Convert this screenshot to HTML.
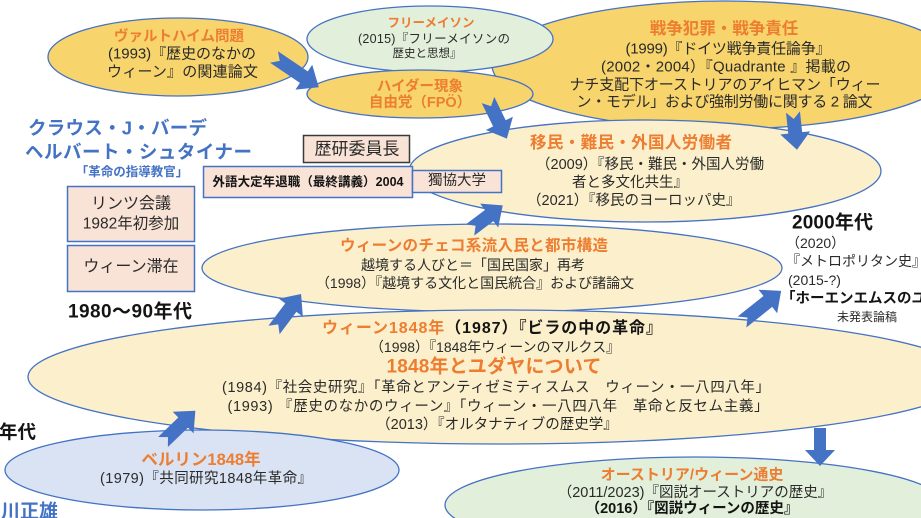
<!DOCTYPE html>
<html><head><meta charset="utf-8">
<style>
html,body{margin:0;padding:0;background:#fff;width:921px;height:518px;overflow:hidden}
svg{display:block;overflow:hidden}
text{font-family:"Liberation Sans","Noto Sans CJK JP",sans-serif;dominant-baseline:central;fill:#2a2a2a}
.o{fill:#ED7D31;font-weight:bold}
.b{font-weight:bold;fill:#141414}
.bl{fill:#4472C4;font-weight:bold}
.m{text-anchor:middle}
.e{stroke:#4472C4;stroke-width:1.3}
.ar{fill:#4472C4}
</style></head><body>
<svg width="921" height="518" viewBox="0 0 921 518" xmlns="http://www.w3.org/2000/svg">
<!-- ellipses -->
<ellipse class="e" cx="725" cy="65" rx="233" ry="64" fill="#F7D46C"/>
<ellipse class="e" cx="645" cy="171" rx="236" ry="51" fill="#FCF0CC"/>
<ellipse class="e" cx="178" cy="57" rx="130" ry="39" fill="#F7D46C"/>
<ellipse class="e" cx="430" cy="39" rx="123" ry="33" fill="#E2EFDA"/>
<ellipse class="e" cx="420" cy="94" rx="113" ry="24" fill="#F7D46C"/>
<ellipse class="e" cx="492" cy="268" rx="290" ry="44" fill="#FCF0CC"/>
<ellipse class="e" cx="499" cy="377" rx="471" ry="67" fill="#FCF0CC"/>
<ellipse class="e" cx="202" cy="470" rx="197" ry="40" fill="#DAE3F3"/>
<ellipse class="e" cx="695" cy="505" rx="250" ry="48" fill="#E2EFDA"/>

<!-- boxes -->
<rect x="303.5" y="135.5" width="106" height="27" fill="#F8E3D6" stroke="#3a3a3a" stroke-width="1.5"/>
<rect x="203.5" y="166.5" width="209" height="31" fill="#F8E3D6" stroke="#4472C4" stroke-width="1.5"/>
<rect x="412.5" y="170.5" width="89" height="22" fill="#F8E3D6" stroke="#4472C4" stroke-width="1.5"/>
<rect x="67.5" y="186.5" width="127" height="55" fill="#F8E3D6" stroke="#4472C4" stroke-width="1.5"/>
<rect x="67.5" y="245.5" width="127" height="46" fill="#F8E3D6" stroke="#4472C4" stroke-width="1.5"/>

<!-- arrows -->
<g class="ar">
<g transform="translate(274,57) rotate(34)"><polygon points="0,-7 36,-7 36,-15 54,0 36,15 36,7 0,7 7,0"/></g>
<g transform="translate(488,100) rotate(64)"><polygon points="0,-7 26,-7 26,-15 43,0 26,15 26,7 0,7 7,0"/></g>
<g transform="translate(793,112) rotate(84)"><polygon points="0,-7 21,-7 21,-15 38,0 21,15 21,7 0,7 7,0"/></g>
<g transform="translate(470,230) rotate(-37)"><polygon points="0,-7 24,-7 24,-15 41,0 24,15 24,7 0,7 7,0"/></g>
<g transform="translate(274,330) rotate(-53)"><polygon points="0,-7 28,-7 28,-15 45,0 28,15 28,7 0,7 7,0"/></g>
<g transform="translate(163,442) rotate(-44)"><polygon points="0,-7 28,-7 28,-15 45,0 28,15 28,7 0,7 7,0"/></g>
<g transform="translate(742,322) rotate(-38.5)"><polygon points="0,-7 33,-7 33,-15 50,0 33,15 33,7 0,7 7,0"/></g>
<g transform="translate(820,428) rotate(90)"><polygon points="0,-6 22,-6 22,-15 38,0 22,15 22,6 0,6"/></g>
</g>

<!-- Waldheim -->
<text class="o m" x="179" y="37" font-size="14.5">ヴァルトハイム問題</text>
<text class="m" x="182" y="54" font-size="15" textLength="148" lengthAdjust="spacing">(1993)『歴史のなかの</text>
<text class="m" x="182.5" y="72" font-size="15" textLength="151" lengthAdjust="spacing">ウィーン』の関連論文</text>

<!-- Freemason -->
<text class="o m" x="431" y="23" font-size="12.5">フリーメイソン</text>
<text class="m" x="434" y="39" font-size="12.5" textLength="152" lengthAdjust="spacing">(2015)『フリーメイソンの</text>
<text class="m" x="427" y="54" font-size="11.5">歴史と思想』</text>

<!-- Haider -->
<text class="o m" x="420" y="87" font-size="14.5">ハイダー現象</text>
<text class="o m" x="420" y="103" font-size="14.5">自由党（FPÖ）</text>

<!-- War crimes -->
<text class="o m" x="724" y="29" font-size="16.5">戦争犯罪・戦争責任</text>
<text class="m" x="728" y="49" font-size="15" textLength="205" lengthAdjust="spacing">(1999)『ドイツ戦争責任論争』</text>
<text class="m" x="726" y="67" font-size="15" textLength="250" lengthAdjust="spacing">(2002・2004）『Quadrante 』掲載の</text>
<text class="m" x="725" y="85" font-size="15" textLength="311" lengthAdjust="spacing">ナチ支配下オーストリアのアイヒマン「ウィー</text>
<text class="m" x="724.5" y="102" font-size="15" textLength="296" lengthAdjust="spacing">ン・モデル」および強制労働に関する 2 論文</text>

<!-- Migrants -->
<text class="o m" x="631" y="143" font-size="16.5" textLength="202" lengthAdjust="spacing">移民・難民・外国人労働者</text>
<text x="536" y="165" font-size="14.5">（2009）『移民・難民・外国人労働</text>
<text x="572" y="183" font-size="14.5">者と多文化共生』</text>
<text x="527" y="201" font-size="14.5">（2021）『移民のヨーロッパ史』</text>

<!-- Czech -->
<text class="o m" x="474" y="246" font-size="15.5" textLength="268" lengthAdjust="spacing">ウィーンのチェコ系流入民と都市構造</text>
<text class="m" x="473" y="265" font-size="14">越境する人びと＝「国民国家」再考</text>
<text class="m" x="475" y="283" font-size="14">（1998）『越境する文化と国民統合』および諸論文</text>

<!-- 1848 -->
<text x="322" y="328" font-size="16" textLength="340" lengthAdjust="spacing"><tspan class="o">ウィーン1848年</tspan><tspan class="b">（1987）『ビラの中の革命』</tspan></text>
<text class="m" x="495" y="347" font-size="14">（1998）『1848年ウィーンのマルクス』</text>
<text class="o m" x="494" y="367" font-size="19" textLength="215" lengthAdjust="spacing">1848年とユダヤについて</text>
<text class="m" x="496" y="388" font-size="14.5" textLength="548" lengthAdjust="spacing">(1984)『社会史研究』「革命とアンティゼミティスムス　ウィーン・一八四八年」</text>
<text class="m" x="498" y="407" font-size="14.5" textLength="541" lengthAdjust="spacing">(1993) 『歴史のなかのウィーン』「ウィーン・一八四八年　革命と反セム主義」</text>
<text class="m" x="497" y="425" font-size="14.5">（2013）『オルタナティブの歴史学』</text>

<!-- Berlin -->
<text class="o m" x="201" y="460" font-size="16.5">ベルリン1848年</text>
<text class="m" x="206" y="479" font-size="14.5" textLength="212" lengthAdjust="spacing">(1979)『共同研究1848年革命』</text>

<!-- Austria -->
<text class="o m" x="692" y="475" font-size="15">オーストリア/ウィーン通史</text>
<text class="m" x="695" y="493" font-size="14.5">（2011/2023)『図説オーストリアの歴史』</text>
<text class="b m" x="692" y="509" font-size="14.5">（2016）『図説ウィーンの歴史』</text>

<!-- boxes text -->
<text class="m" x="357" y="149" font-size="17" fill="#1a1a1a">歴研委員長</text>
<text class="b m" x="308" y="182" font-size="12.5" textLength="191" lengthAdjust="spacing">外語大定年退職（最終講義）2004</text>
<text class="m" x="457" y="181" font-size="14.5">獨協大学</text>
<text class="m" x="131" y="204" font-size="16">リンツ会議</text>
<text class="m" x="131" y="224" font-size="15.5">1982年初参加</text>
<text class="m" x="131" y="267" font-size="16">ウィーン滞在</text>

<!-- left labels -->
<text class="bl" x="28" y="128" font-size="18.5" textLength="179" lengthAdjust="spacing">クラウス・J・バーデ</text>
<text class="bl" x="25" y="152" font-size="18.5" textLength="227" lengthAdjust="spacing">ヘルバート・シュタイナー</text>
<text class="bl m" x="132" y="172" font-size="12.5">「革命の指導教官」</text>
<text class="b" x="68" y="312" font-size="19" textLength="124" lengthAdjust="spacing">1980〜90年代</text>
<text class="b" x="36" y="432" font-size="18.5" text-anchor="end">1970年代</text>
<text class="bl" x="58" y="512" font-size="19" text-anchor="end">西川正雄</text>

<!-- right labels -->
<text class="b" x="792" y="223" font-size="19" textLength="81" lengthAdjust="spacing">2000年代</text>
<text x="786" y="243" font-size="14">（2020）</text>
<text x="786" y="261" font-size="14">『メトロポリタン史』</text>
<text x="788" y="280" font-size="14">(2015-?)</text>
<text class="b" x="781" y="299" font-size="14.5">「ホーエンエムスのユダヤ人」</text>
<text class="m" x="867" y="317" font-size="12">未発表論稿</text>
</svg>
</body></html>
